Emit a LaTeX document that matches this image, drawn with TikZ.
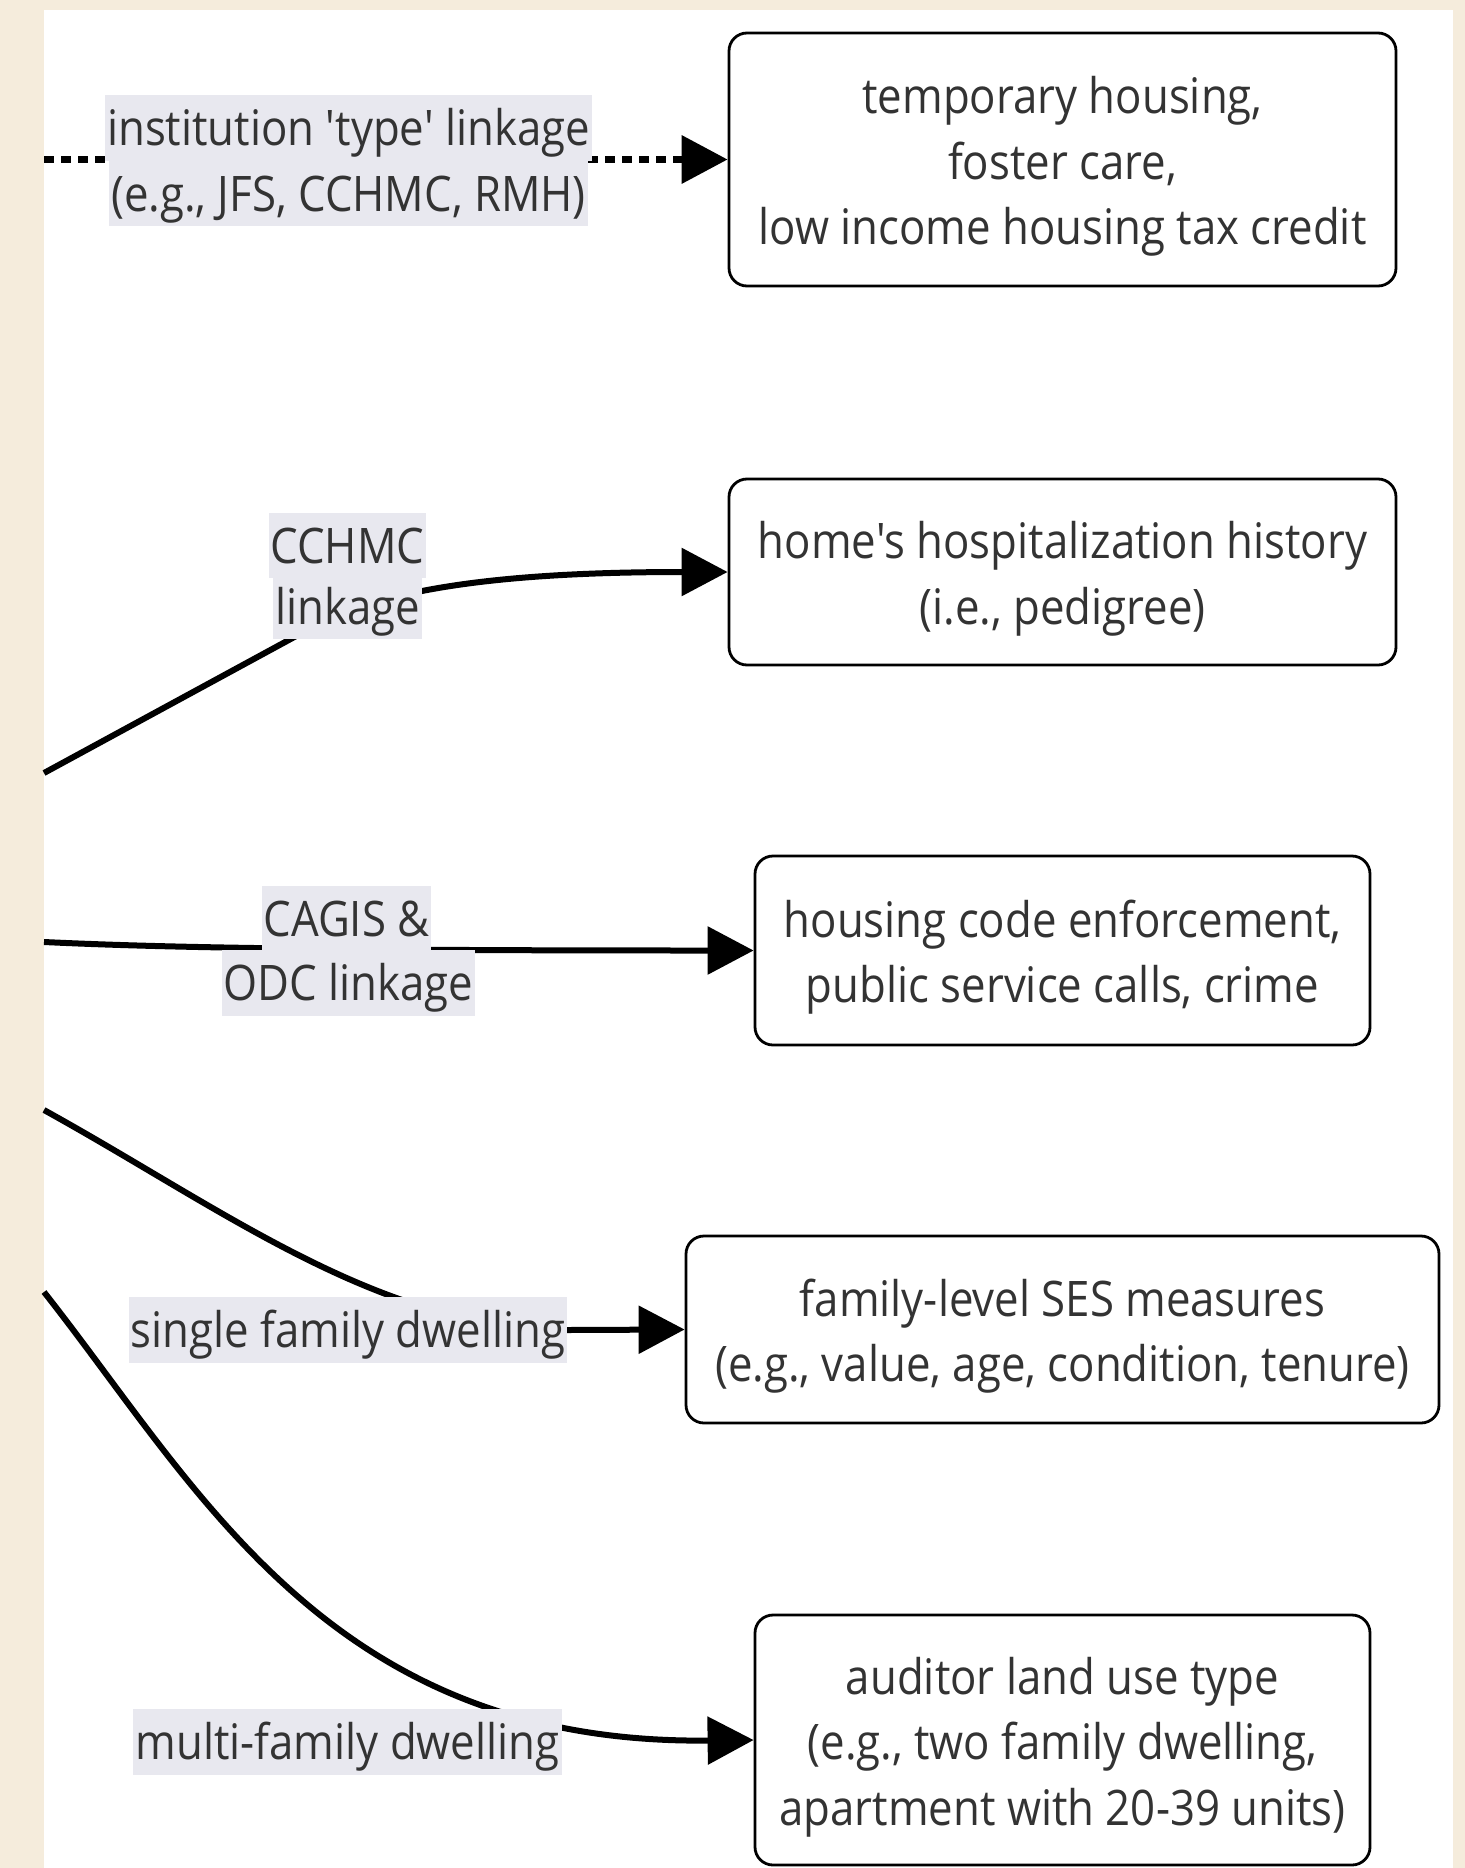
\documentclass[tikz,border=0pt]{standalone}
\usepackage{fontspec}
\usetikzlibrary{arrows.meta}

% Calibrate a horizontal stretch so the long box line has the intended width
\newfontfamily\probefont{Open Sans}
\newsavebox\probebox
\sbox\probebox{\probefont\fontsize{24.5}{32.75}\selectfont low income housing tax credit}
\edef\stretchval{\fpeval{round(304/(\the\wd\probebox),3)}}
\edef\loadfont{\noexpand\newfontfamily\noexpand\diagfont[FakeStretch=\stretchval,Ligatures=TeXOff]{Open Sans}}
\loadfont

% struts that fix the height of the first and the depth of the last box line
\newcommand\firstline{\rule{0pt}{25.6pt}}
\newcommand\lastline{\rule[-6pt]{0pt}{0pt}}

\definecolor{cream}{HTML}{F5ECDC}
\definecolor{labelbg}{HTML}{E8E8EF}
\definecolor{ink}{HTML}{333333}

\pgfdeclarelayer{panel}
\pgfdeclarelayer{edges}
\pgfsetlayers{panel,edges,main}

\tikzset{
  every node/.style={font=\diagfont\fontsize{24.5}{32.75}\selectfont, text=ink},
  infobox/.style={draw=black, line width=1.4pt, rounded corners=9pt, fill=white,
    align=center, inner sep=0pt},
  edgelabel/.style={fill=labelbg, inner xsep=1pt, inner ysep=0pt,
    text height=25.25pt, text depth=7.5pt},
  link/.style={line width=3pt, -{Triangle[length=23pt,width=23.5pt]}},
  dotlink/.style={link, line width=3.5pt, dash pattern=on 5pt off 3.5pt},
}

\begin{document}
\begin{tikzpicture}[x=0.5pt,y=-0.5pt]
\useasboundingbox (0,0) rectangle (1465,1868);
\begin{pgfonlayer}{panel}
  \fill[cream] (0,0) rectangle (1465,1868);
  \fill[white] (44,10) rectangle (1453,1868);
\end{pgfonlayer}

% target boxes
\node[infobox, minimum width=333.5pt, minimum height=126.5pt] (b1) at (1062.5,159.5)
  {\firstline temporary housing,\\ foster care,\\ low income housing tax credit\lastline};
\node[infobox, minimum width=333.5pt, minimum height=93pt] (b2) at (1062.5,572)
  {\firstline home's hospitalization history\\ (i.e., pedigree)\lastline};
\node[infobox, minimum width=307.5pt, minimum height=94.5pt] (b3) at (1062.5,950.5)
  {\firstline housing code enforcement,\\ public service calls, crime\lastline};
\node[infobox, minimum width=376.5pt, minimum height=93.5pt] (b4) at (1062.5,1329.5)
  {\firstline family-level SES measures\\ (e.g., value, age, condition, tenure)\lastline};
\node[infobox, minimum width=307.5pt, minimum height=125pt] (b5) at (1062.5,1740)
  {\firstline auditor land use type\\ (e.g., two family dwelling,\\ apartment with 20-39 units)\lastline};

% edge labels, one background strip per text line
\node[edgelabel] (l1a) at (348.5,128) {institution 'type' linkage};
\node[edgelabel] (l1b) at (348.5,193.5) {(e.g., JFS, CCHMC, RMH)};
\node[edgelabel] (l2a) at (347.5,545.5) {CCHMC};
\node[edgelabel] (l2b) at (347.5,606.5) {linkage};
\node[edgelabel] (l3a) at (346.5,919) {CAGIS \&};
\node[edgelabel] (l3b) at (348.5,983) {ODC linkage};
\node[edgelabel] (l4) at (348,1330) {single family dwelling};
\node[edgelabel] (l5) at (347.5,1742) {multi-family dwelling};

% loose ends of the connectors at the panel edge
\coordinate (s1) at (44,159.5);
\coordinate (s2) at (44,773);
\coordinate (s3) at (44,942);
\coordinate (s4) at (44,1110);
\coordinate (s5) at (44,1292);

\begin{pgfonlayer}{edges}
  \draw[dotlink] (s1) -- (b1.west);
  \draw[link] (s2) -- (310,628.5) .. controls (375,593) and (480,572) .. (b2.west);
  \draw[link] (s3) .. controls (150,947) and (300,950.5) .. (b3.west);
  \draw[link] (s4) .. controls (225,1210) and (380,1330) .. (l4.east) -- (b4.west);
  \draw[link] (s5) .. controls (200,1490) and (330,1745) .. (b5.west);
\end{pgfonlayer}
\end{tikzpicture}
\end{document}
